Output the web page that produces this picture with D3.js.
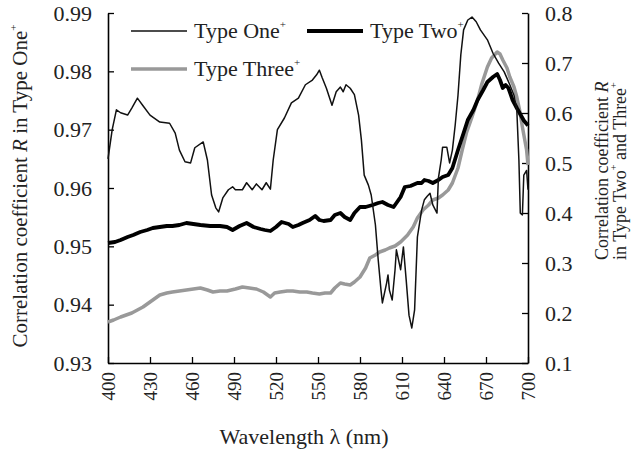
<!DOCTYPE html>
<html>
<head>
<meta charset="utf-8">
<script src="https://cdn.jsdelivr.net/npm/d3@7"></script>
<style>
  body { margin: 0; background: #fff; }
  svg { font-family: "Liberation Serif", "Times New Roman", serif; }
</style>
</head>
<body>
<svg id="chart" width="644" height="455"></svg>
<script>
// Type One+ (left axis)
const oneWl = [400,403,406,409,414,417,421,425,430,437,444,448,451,455,459,462,468,471,474,477,479,482,486,489,491,496,499,503,506,510,513,516,518,521,526,531,536,541,546,549,551,553,556,560,563,566,568,570,573,576,579,581,583,586,588,591,593,595,596,599,600,601,603,605,606,609,611,613,615,617,619,621,624,626,628,630,632,635,636,638,639,642,644,646,648,650,652,654,657,660,663,666,671,675,679,683,687,690,692,693.5,694.5,696,697,699,700];
const oneR = [0.965,0.970,0.9734,0.9729,0.9725,0.9737,0.9754,0.9741,0.9725,0.9713,0.9711,0.9694,0.9665,0.9645,0.9643,0.9669,0.9679,0.9648,0.9588,0.9566,0.9559,0.9583,0.9597,0.9602,0.9597,0.9597,0.9609,0.9597,0.9607,0.9597,0.9609,0.9598,0.9648,0.970,0.972,0.9746,0.9754,0.9777,0.9785,0.9794,0.9802,0.9789,0.9771,0.9742,0.9765,0.9773,0.9765,0.9777,0.9771,0.976,0.9725,0.9682,0.9622,0.9605,0.9588,0.9537,0.9477,0.9425,0.9403,0.9437,0.9451,0.9425,0.9408,0.9459,0.9494,0.946,0.9499,0.9442,0.9382,0.936,0.9391,0.9516,0.9562,0.958,0.9586,0.9591,0.9571,0.9557,0.9617,0.9648,0.967,0.967,0.9643,0.9665,0.9708,0.9759,0.9828,0.9871,0.9888,0.9893,0.9885,0.9871,0.9854,0.9831,0.9814,0.9799,0.9777,0.9759,0.9734,0.9648,0.9557,0.9554,0.9622,0.963,0.9597];

// Type Two+ (right axis)
const twoWl = [400,405,409,414,418,423,428,432,437,442,446,451,456,461,466,473,480,485,489,494,499,504,509,512,516,520,524,529,532,536,539,544,548,551,554,559,562,566,569,573,576,580,584,589,593,596,600,604,609,612,616,621,624,626,629,632,636,639,643,646,650,654,657,661,664,668,671,675,678,680,682,684,686,689,692,694,697,700];
const twoR = [0.340,0.342,0.346,0.352,0.356,0.362,0.366,0.370,0.372,0.374,0.374,0.376,0.380,0.378,0.376,0.374,0.374,0.372,0.366,0.374,0.380,0.372,0.368,0.366,0.364,0.372,0.382,0.378,0.372,0.376,0.380,0.386,0.394,0.386,0.384,0.386,0.396,0.400,0.392,0.386,0.400,0.412,0.412,0.416,0.420,0.422,0.416,0.412,0.432,0.452,0.454,0.460,0.460,0.466,0.464,0.460,0.466,0.472,0.476,0.490,0.526,0.560,0.586,0.606,0.626,0.646,0.662,0.672,0.678,0.666,0.650,0.656,0.650,0.626,0.610,0.600,0.585,0.575];

// Type Three+ (right axis)
const threeWl = [400,404,409,413,417,421,425,430,434,437,442,446,451,456,461,466,471,475,480,485,491,496,501,506,511,516,519,523,528,532,537,542,546,551,555,559,562,566,569,573,576,580,584,587,591,594,598,601,605,609,614,618,621,625,629,632,636,639,643,646,650,653,656,660,664,667,671,674,678,680,682,685,687,690,692,694,696,699,700];
const threeR = [0.182,0.186,0.192,0.196,0.200,0.206,0.212,0.222,0.230,0.236,0.240,0.242,0.244,0.246,0.248,0.250,0.246,0.242,0.244,0.244,0.248,0.252,0.250,0.248,0.242,0.232,0.240,0.242,0.244,0.244,0.242,0.242,0.240,0.238,0.240,0.240,0.250,0.260,0.258,0.256,0.262,0.272,0.290,0.310,0.316,0.322,0.326,0.330,0.334,0.342,0.356,0.372,0.390,0.406,0.416,0.426,0.430,0.436,0.446,0.460,0.490,0.526,0.560,0.592,0.626,0.658,0.692,0.710,0.722,0.718,0.706,0.690,0.672,0.652,0.632,0.606,0.572,0.526,0.496];

const xTicks = [400,430,460,490,520,550,580,610,640,670,700];
const leftTicks = [0.93,0.94,0.95,0.96,0.97,0.98,0.99];
const rightTicks = [0.1,0.2,0.3,0.4,0.5,0.6,0.7,0.8];

const margin = { top: 13, left: 108, right: 116, bottom: 92 };
const width = 644, height = 455;
const iwidth = width - margin.left - margin.right;
const iheight = height - margin.top - margin.bottom;

const svg = d3.select("#chart");
const g = svg.append("g").attr("transform", `translate(${margin.left},${margin.top})`);

const x = d3.scaleLinear().domain([400, 700]).range([0, iwidth]);
const yL = d3.scaleLinear().domain([0.93, 0.99]).range([iheight, 0]);
const yR = d3.scaleLinear().domain([0.1, 0.8]).range([iheight, 0]);

const styleAxis = (sel, size) => {
  sel.select(".domain").attr("stroke", "#000").attr("stroke-width", 1.6);
  sel.selectAll(".tick line").attr("stroke", "#000").attr("stroke-width", 1.3);
  sel.selectAll("text").attr("font-size", size).attr("fill", "#222")
    .attr("font-family", "Liberation Serif, serif");
};

g.append("g")
  .attr("transform", `translate(0,${iheight})`)
  .call(d3.axisBottom(x).tickValues(xTicks).tickSizeInner(-6).tickSizeOuter(0))
  .call(styleAxis, 19)
  .selectAll("text")
  .attr("y", 0).attr("x", -9).attr("dy", "0.33em")
  .attr("text-anchor", "end")
  .attr("transform", "rotate(-90)");

g.append("g")
  .call(d3.axisLeft(yL).tickValues(leftTicks).tickFormat(d3.format(".2f"))
    .tickSizeInner(-6).tickSizeOuter(0).tickPadding(16))
  .call(styleAxis, 22);

g.append("g")
  .attr("transform", `translate(${iwidth},0)`)
  .call(d3.axisRight(yR).tickValues(rightTicks).tickFormat(d3.format(".1f"))
    .tickSizeInner(-6).tickSizeOuter(0).tickPadding(17))
  .call(styleAxis, 22);

const lineL = d3.line().x(d => x(d[0])).y(d => yL(d[1]));
const lineR = d3.line().x(d => x(d[0])).y(d => yR(d[1]));

g.append("path").datum(d3.zip(threeWl, threeR))
  .attr("d", lineR).attr("fill", "none")
  .attr("stroke", "#999").attr("stroke-width", 3.5).attr("stroke-linejoin", "round");

g.append("path").datum(d3.zip(twoWl, twoR))
  .attr("d", lineR).attr("fill", "none")
  .attr("stroke", "#000").attr("stroke-width", 3.8).attr("stroke-linejoin", "round");

g.append("path").datum(d3.zip(oneWl, oneR))
  .attr("d", lineL).attr("fill", "none")
  .attr("stroke", "#111").attr("stroke-width", 1.5).attr("stroke-linejoin", "round");

// legend
const legend = [
  { name: "Type One", x: 131, y: 31, color: "#111", w: 1.5 },
  { name: "Type Two", x: 307, y: 31, color: "#000", w: 3.8 },
  { name: "Type Three", x: 131, y: 69, color: "#999", w: 3.5 }
];
legend.forEach(l => {
  svg.append("line")
    .attr("x1", l.x).attr("x2", l.x + 56).attr("y1", l.y).attr("y2", l.y)
    .attr("stroke", l.color).attr("stroke-width", l.w);
  const t = svg.append("text").attr("x", l.x + 63).attr("y", l.y + 7)
    .attr("font-size", 22).attr("fill", "#222");
  t.append("tspan").text(l.name);
  t.append("tspan").attr("font-size", 11).attr("dy", -10).text("+");
});

// axis titles
svg.append("text")
  .attr("x", 304).attr("y", 444).attr("text-anchor", "middle")
  .attr("font-size", 22).attr("fill", "#222")
  .text("Wavelength λ (nm)");

const lt = svg.append("text")
  .attr("transform", "translate(27,186) rotate(-90)")
  .attr("text-anchor", "middle").attr("font-size", 21).attr("fill", "#222");
lt.append("tspan").text("Correlation coefficient ");
lt.append("tspan").attr("font-style", "italic").text("R");
lt.append("tspan").text(" in Type One");
lt.append("tspan").attr("font-size", 11).attr("dy", -10).text("+");

const rt1 = svg.append("text")
  .attr("transform", "translate(608,260) rotate(-90)")
  .attr("font-size", 18).attr("fill", "#222");
rt1.append("tspan").text("Correlation coefficient ");
rt1.append("tspan").attr("font-style", "italic").text("R");

const rt2 = svg.append("text")
  .attr("transform", "translate(626,260) rotate(-90)")
  .attr("font-size", 18).attr("fill", "#222");
rt2.append("tspan").text("in Type Two");
rt2.append("tspan").attr("font-size", 10).attr("dy", -9).text("+");
rt2.append("tspan").attr("dy", 9).text(" and Three");
rt2.append("tspan").attr("font-size", 10).attr("dy", -9).text("+");
</script>
</body>
</html>
